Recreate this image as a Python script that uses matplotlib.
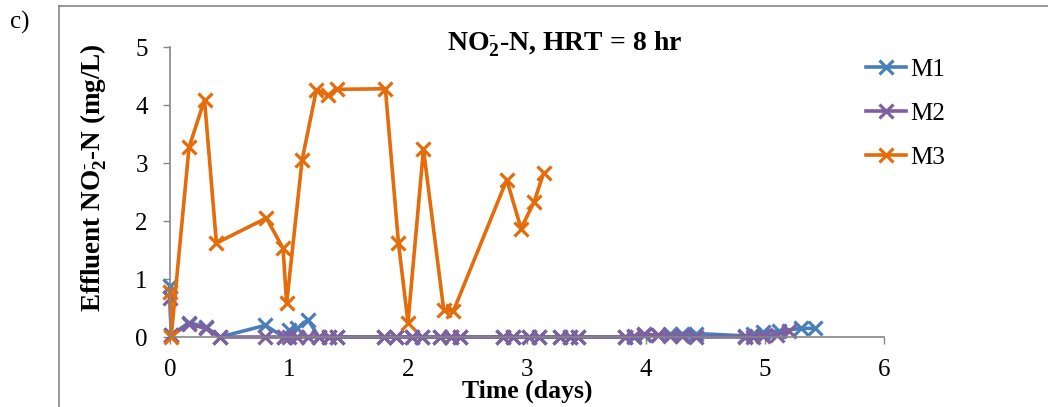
import matplotlib
matplotlib.use("Agg")
import matplotlib.pyplot as plt
from matplotlib.lines import Line2D

plt.rcParams['font.family'] = ['Liberation Serif', 'DejaVu Serif']
plt.rcParams['mathtext.fontset'] = 'custom'
plt.rcParams['mathtext.rm'] = 'Liberation Serif'
plt.rcParams['mathtext.bf'] = 'Liberation Serif:bold'
plt.rcParams['mathtext.default'] = 'bf'

# Effluent nitrite (mg/L) over time (days) for three reactors
m1_time = [0.0, 0.01, 0.16, 0.30, 0.42, 0.80, 0.96, 1.00, 1.07, 1.16, 1.25, 1.34, 1.40,
           1.80, 1.90, 2.03, 2.12, 2.27, 2.36, 2.44, 2.80, 2.88, 3.02, 3.10, 3.28, 3.36,
           3.43, 3.82, 3.90, 3.98, 4.10, 4.20, 4.30, 4.42, 4.83, 4.90, 4.98, 5.12, 5.30, 5.42]
m1_no2 = [0.88, 0.03, 0.25, 0.17, 0.00, 0.20, 0.00, 0.12, 0.15, 0.30, 0.00, 0.00, 0.00,
          0.00, 0.00, 0.00, 0.00, 0.00, 0.00, 0.00, 0.00, 0.00, 0.00, 0.00, 0.00, 0.00,
          0.00, 0.00, 0.00, 0.03, 0.03, 0.05, 0.06, 0.06, 0.02, 0.06, 0.08, 0.10, 0.15, 0.15]

m2_time = [0.0, 0.01, 0.16, 0.30, 0.42, 0.80, 0.96, 1.00, 1.07, 1.16, 1.25, 1.34, 1.40,
           1.80, 1.90, 2.03, 2.12, 2.27, 2.36, 2.44, 2.80, 2.88, 3.02, 3.10, 3.28, 3.36,
           3.43, 3.82, 3.90, 3.98, 4.10, 4.20, 4.30, 4.42, 4.83, 4.90, 4.98, 5.10, 5.20]
m2_no2 = [0.68, 0.03, 0.22, 0.15, 0.00, 0.00, 0.00, 0.00, 0.00, 0.00, 0.00, 0.00, 0.00,
          0.00, 0.00, 0.00, 0.00, 0.00, 0.00, 0.00, 0.00, 0.00, 0.00, 0.00, 0.00, 0.00,
          0.00, 0.00, 0.02, 0.05, 0.03, 0.02, 0.01, 0.00, 0.00, 0.00, 0.02, 0.04, 0.10]

m3_time = [0.0, 0.01, 0.16, 0.29, 0.39, 0.81, 0.95, 0.98, 1.11, 1.23, 1.33, 1.40,
           1.81, 1.92, 2.00, 2.13, 2.30, 2.38, 2.83, 2.95, 3.06, 3.14]
m3_no2 = [0.78, 0.00, 3.27, 4.09, 1.62, 2.05, 1.53, 0.58, 3.05, 4.26, 4.17, 4.27,
          4.28, 1.62, 0.25, 3.24, 0.47, 0.44, 2.71, 1.87, 2.33, 2.83]

series_names = ['M1', 'M2', 'M3']
series_colors = ['#4A7EBB', '#7E60A0', '#E46C0A']

FS = 18
W, H = 1048, 407
fig = plt.figure(figsize=(W / 100, H / 100), dpi=100)
ax = fig.add_axes([170 / W, 1 - 337 / H, (884 - 170) / W, (337 - 47) / H])

for t, v, name, c in zip([m1_time, m2_time, m3_time], [m1_no2, m2_no2, m3_no2],
                         series_names, series_colors):
    ax.plot(t, v, color=c, lw=2.6, marker='x', ms=9.5, mew=2.3, label=name,
            solid_joinstyle='round', clip_on=False)

ax.set_xlim(0, 6)
ax.set_ylim(0, 5)
ax.set_xticks(range(0, 7))
ax.set_yticks(range(0, 6))
for side in ('top', 'right'):
    ax.spines[side].set_visible(False)
for side in ('left', 'bottom'):
    ax.spines[side].set_color('#868686')
    ax.spines[side].set_linewidth(1.2)
ax.tick_params(axis='both', direction='out', length=5, width=1.0, color='#868686',
               labelsize=FS, labelcolor='black')
ax.tick_params(axis='y', pad=11)
ax.tick_params(axis='x', pad=11)

ax.set_xlabel('Time (days)', fontsize=18.5, fontweight='bold', labelpad=-1.5)
ax.set_ylabel(r'Effluent NO$_2^{\text{-}}$-N (mg/L)', fontsize=19.5, fontweight='bold')
ax.yaxis.set_label_coords(109 / W, 1 - 178 / H, transform=fig.transFigure)

fig.text(565 / W, 1 - 44 / H, r'NO$_2^{\text{-}}$-N, HRT = 8 hr', fontsize=20,
         fontweight='bold', ha='center', va='center')
fig.text(10 / W, 1 - 22 / H, 'c)', fontsize=FS, ha='left', va='center')

leg = ax.legend(loc='upper left', bbox_to_anchor=(843 / W, 1 - 36 / H),
                bbox_transform=fig.transFigure, frameon=False, fontsize=FS,
                handlelength=1.6, labelspacing=0.85, handletextpad=0.2)

# Chart frame (cut off at the right and bottom edges)
fig.add_artist(Line2D([59 / W, 59 / W], [1 - 6 / H, -0.1], color='#868686', lw=1.2,
                      transform=fig.transFigure))
fig.add_artist(Line2D([59 / W, 1.1], [1 - 6 / H, 1 - 6 / H], color='#868686', lw=1.2,
                      transform=fig.transFigure))

fig.savefig('out.png', dpi=100)
